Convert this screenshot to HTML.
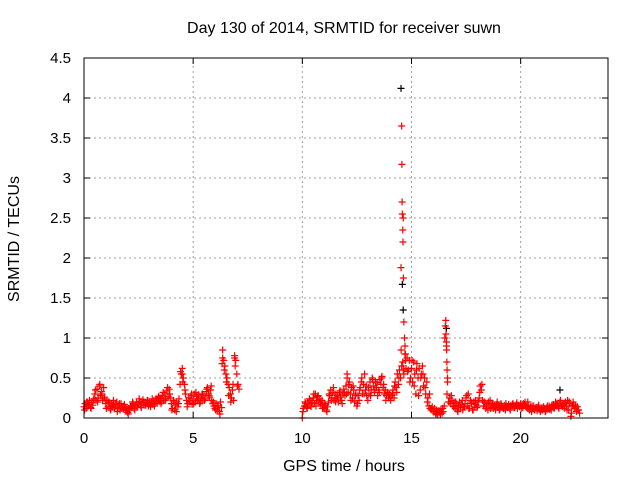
<!DOCTYPE html>
<html><head><meta charset="utf-8"><style>
body{margin:0;background:#fff}
svg{display:block;font-family:"Liberation Sans",Arial,sans-serif}
</style></head><body>
<svg id="chart" width="640" height="480" viewBox="0 0 640 480">
<rect width="640" height="480" fill="#fff"/>
<text x="344" y="33" text-anchor="middle" font-size="16">Day 130 of 2014, SRMTID for receiver suwn</text>
<text x="344" y="471" text-anchor="middle" font-size="16">GPS time / hours</text>
<text transform="translate(19,239) rotate(-90)" text-anchor="middle" font-size="16">SRMTID / TECUs</text>
<g id="grid"></g>
<g id="ticks"></g>
<g id="black"></g>
<g id="red"></g>
<rect x="84" y="58" width="524" height="360" fill="none" stroke="#000"/>
</svg>
<script>
const xTicks=[0,5,10,15,20];
const yTicks=[0,0.5,1,1.5,2,2.5,3,3.5,4,4.5];
const yTickLabels=["0","0.5","1","1.5","2","2.5","3","3.5","4","4.5"];
const segAStart=0, segBStart=10, step=0.05;
const segA2Start=0.025, segB2Start=10.025, step2=0.1;
const segAValues=[0.14,0.18,0.12,0.2,0.15,0.22,0.13,0.19,0.16,0.24,
0.3,0.22,0.36,0.25,0.4,0.28,0.33,0.22,0.38,0.26,
0.18,0.22,0.14,0.2,0.12,0.18,0.15,0.22,0.13,0.17,
0.2,0.12,0.16,0.1,0.18,0.14,0.11,0.17,0.13,0.09,
0.07,0.12,0.1,0.15,0.13,0.18,0.12,0.16,0.2,0.14,
0.17,0.21,0.15,0.19,0.23,0.16,0.2,0.18,0.22,0.15,
0.19,0.14,0.2,0.17,0.22,0.18,0.24,0.19,0.26,0.21,
0.25,0.2,0.28,0.22,0.3,0.24,0.34,0.27,0.36,0.25,
0.18,0.12,0.22,0.1,0.16,0.2,0.14,0.24,0.42,0.55,
0.62,0.5,0.42,0.3,0.22,0.18,0.25,0.2,0.28,0.17,
0.24,0.3,0.2,0.27,0.22,0.29,0.18,0.25,0.3,0.22,
0.28,0.24,0.33,0.38,0.3,0.26,0.35,0.22,0.18,0.15,
0.12,0.18,0.1,0.15,0.08,0.2,0.13,0.85,0.72,0.65,
0.55,0.5,0.42,0.38,0.3,0.25,0.35,0.22,0.78,0.72,
0.55,0.42,0.36];
const segA2Values=[0.1,0.2,0.17,0.12,0.22,0.35,0.2,0.42,0.3,0.24,
0.12,0.2,0.1,0.16,0.14,0.08,0.18,0.12,0.15,0.1,
0.05,0.14,0.2,0.1,0.17,0.24,0.13,0.2,0.16,0.22,
0.17,0.24,0.15,0.22,0.27,0.18,0.32,0.22,0.38,0.3,
0.1,0.2,0.08,0.18,0.58,0.45,0.35,0.14,0.22,0.3,
0.18,0.32,0.24,0.2,0.3,0.22,0.36,0.28,0.4,0.2,
0.1,0.15,0.05,0.68,0.6,0.45,0.28,0.2,0.42,0.65,
0.4];
const segBValues=[0.0,0.12,0.15,0.18,0.13,0.2,0.16,0.22,0.14,0.19,
0.25,0.18,0.3,0.22,0.27,0.2,0.24,0.17,0.22,0.15,
0.12,0.16,0.1,0.14,0.2,0.28,0.35,0.25,0.32,0.22,
0.3,0.24,0.28,0.2,0.32,0.26,0.22,0.3,0.36,0.28,
0.4,0.55,0.32,0.45,0.3,0.38,0.25,0.35,0.2,0.3,
0.15,0.28,0.22,0.38,0.45,0.3,0.42,0.55,0.35,0.28,
0.22,0.3,0.45,0.35,0.5,0.4,0.32,0.45,0.38,0.28,
0.35,0.48,0.42,0.52,0.38,0.3,0.35,0.28,0.32,0.25,
0.3,0.22,0.28,0.35,0.25,0.45,0.38,0.55,0.42,0.6,
0.5,0.65,0.7,0.55,0.8,0.62,0.75,0.6,0.72,0.5,
0.62,0.45,0.7,0.55,0.3,0.68,0.5,0.62,0.35,0.55,
0.65,0.4,0.5,0.3,0.45,0.25,0.15,0.12,0.1,0.14,
0.08,0.12,0.06,0.1,0.05,0.09,0.07,0.11,0.06,0.08,
0.15,1.15,0.9,0.45,0.2,0.25,0.18,0.22,0.15,0.2,
0.12,0.18,0.1,0.15,0.2,0.13,0.17,0.1,0.14,0.18,
0.25,0.15,0.3,0.12,0.22,0.18,0.1,0.2,0.14,0.17,
0.13,0.2,0.25,0.4,0.35,0.22,0.15,0.2,0.12,0.18,
0.1,0.16,0.22,0.13,0.18,0.12,0.15,0.1,0.17,0.13,
0.15,0.11,0.18,0.14,0.12,0.16,0.1,0.15,0.13,0.17,
0.12,0.16,0.14,0.18,0.13,0.15,0.17,0.12,0.16,0.14,
0.18,0.15,0.13,0.17,0.2,0.14,0.12,0.16,0.1,0.14,
0.08,0.12,0.15,0.1,0.13,0.09,0.14,0.11,0.08,0.12,
0.1,0.14,0.12,0.09,0.13,0.11,0.15,0.12,0.1,0.14,
0.17,0.13,0.2,0.15,0.18,0.12,0.2,0.16,0.14,0.18,
0.12,0.2,0.15,0.22,0.1,0.18,0.02,0.15,0.2,0.12,
0.16,0.08,0.14,0.1,0.06];
const segB2Values=[0.08,0.2,0.12,0.24,0.18,0.3,0.15,0.28,0.2,0.12,
0.18,0.08,0.3,0.22,0.38,0.2,0.26,0.34,0.18,0.32,
0.3,0.42,0.22,0.4,0.28,0.18,0.35,0.5,0.3,0.4,
0.38,0.28,0.48,0.35,0.44,0.32,0.5,0.42,0.22,0.3,
0.25,0.3,0.4,0.32,0.5,0.85,0.6,0.72,0.58,0.45,
0.72,0.4,0.6,0.28,0.5,0.55,0.38,0.2,0.3,0.12,
0.1,0.04,0.08,0.05,0.12,1.0,0.3,0.2,0.28,0.14,
0.2,0.08,0.16,0.22,0.14,0.28,0.12,0.2,0.1,0.22,
0.15,0.32,0.42,0.2,0.14,0.2,0.12,0.18,0.14,0.2,
0.1,0.16,0.12,0.18,0.14,0.1,0.17,0.13,0.19,0.15,
0.12,0.18,0.15,0.2,0.11,0.15,0.1,0.13,0.16,0.1,
0.13,0.08,0.15,0.11,0.16,0.12,0.18,0.14,0.22,0.15,
0.18,0.1,0.2,0.06,0.16,0.14,0.1];
const spikeTimes=[14.52,14.55,14.56,14.57,14.58,14.6,14.61,14.62,14.63,14.65,14.68,14.7,14.72,16.57,16.58,16.6,16.61,16.62,16.63,16.65,6.35,6.9,4.5,12.05];
const spikeValues=[1.88,3.65,3.17,2.7,2.55,2.35,2.2,2.5,1.75,1.2,1.0,0.9,0.8,1.22,1.05,0.95,0.85,0.7,0.6,0.5,0.75,0.75,0.55,0.5];
const blackTimes=[14.52,14.58,14.62,16.6,21.8];
const blackValues=[4.12,1.67,1.35,1.12,0.35];

const X0=84,X1=608,Y0=418,Y1=58,XMAX=24,YMAX=4.5;
const sx=t=>X0+t/XMAX*(X1-X0);
const sy=v=>Y0-v/YMAX*(Y0-Y1);
const NS="http://www.w3.org/2000/svg";
function mk(tag,attrs,parent){const e=document.createElementNS(NS,tag);for(const k in attrs)e.setAttribute(k,attrs[k]);parent.appendChild(e);return e;}
const grid=document.getElementById('grid'),ticks=document.getElementById('ticks');
xTicks.forEach(t=>{const x=sx(t);
 if(t>0){const g=mk('line',{x1:x,x2:x,y1:Y0,y2:Y1,stroke:'#a0a0a0','stroke-dasharray':'2,3'},grid);}
 mk('line',{x1:x,x2:x,y1:Y0,y2:Y0-6,stroke:'#000'},ticks);
 mk('line',{x1:x,x2:x,y1:Y1,y2:Y1+6,stroke:'#000'},ticks);
 const l=mk('text',{x:x,y:Y0+25,'text-anchor':'middle','font-size':15},ticks);l.textContent=t;
 
});
yTicks.forEach((v,i)=>{const y=sy(v);
 if(v>0&&v<YMAX){const g=mk('line',{x1:X0,x2:X1,y1:y,y2:y,stroke:'#a0a0a0','stroke-dasharray':'2,3'},grid);}
 mk('line',{x1:X0,x2:X0+6,y1:y,y2:y,stroke:'#000'},ticks);
 mk('line',{x1:X1,x2:X1-6,y1:y,y2:y,stroke:'#000'},ticks);
 const l=mk('text',{x:X0-13,y:y+5,'text-anchor':'end','font-size':15},ticks);l.textContent=yTickLabels[i];
 
});
function plus(g,t,v,col){const x=sx(t),y=sy(v);
 const p=mk('path',{d:`M${x-3.5},${y}h7M${x},${y-3.5}v7`,stroke:col,'stroke-width':1.2,fill:'none'},g);
 }
const bg=document.getElementById('black'),rg=document.getElementById('red');
blackTimes.forEach((t,i)=>plus(bg,t,blackValues[i],'#000'));
segAValues.forEach((v,i)=>plus(rg,segAStart+i*step,v,'#f00'));
segA2Values.forEach((v,i)=>plus(rg,segA2Start+i*step2,v,'#f00'));
segBValues.forEach((v,i)=>plus(rg,segBStart+i*step,v,'#f00'));
segB2Values.forEach((v,i)=>plus(rg,segB2Start+i*step2,v,'#f00'));
spikeTimes.forEach((t,i)=>plus(rg,t,spikeValues[i],'#f00'));
</script>
</body></html>
